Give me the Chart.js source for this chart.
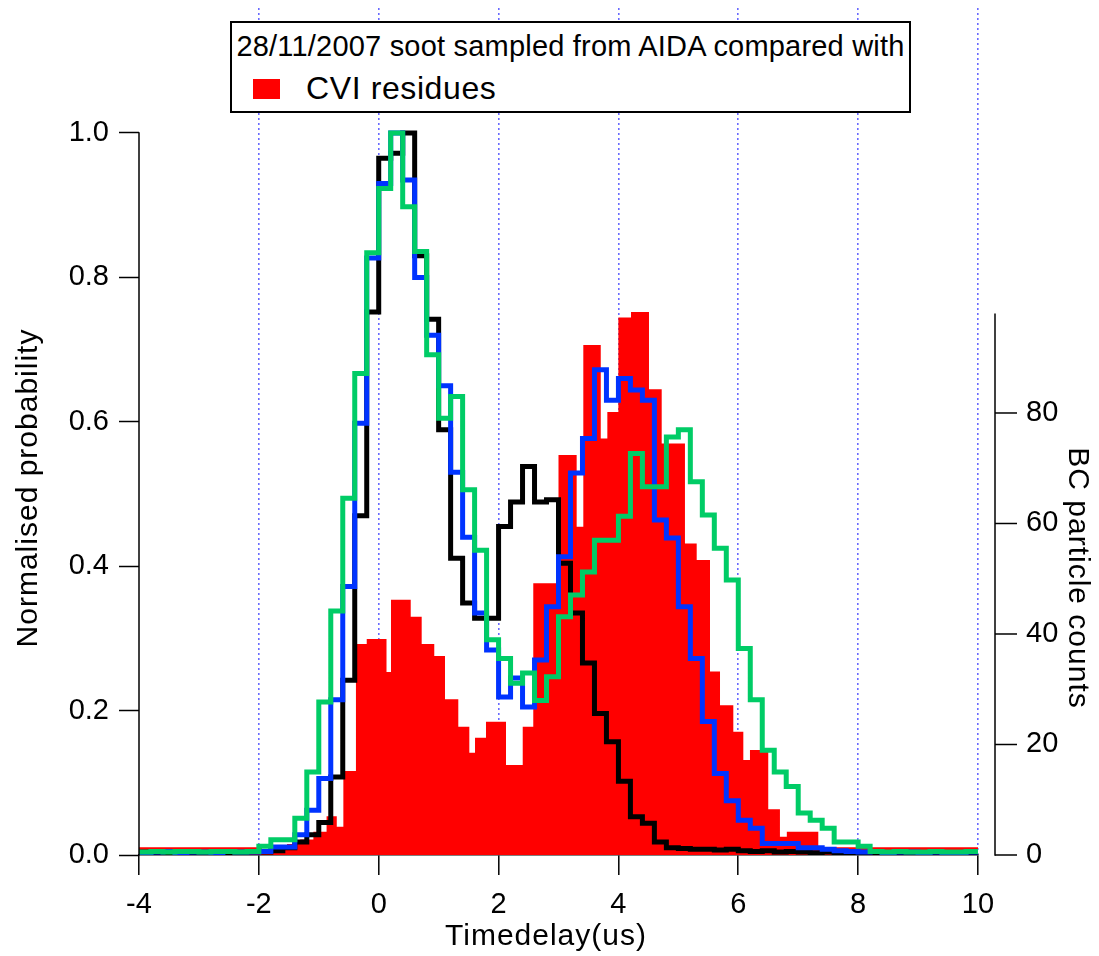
<!DOCTYPE html>
<html>
<head>
<meta charset="utf-8">
<script src="https://cdn.jsdelivr.net/npm/chart.js@4.4.1/dist/chart.umd.min.js"></script>
<style>
html,body{margin:0;padding:0;background:#fff;}
#wrap{position:relative;width:1099px;height:956px;overflow:hidden;}
canvas{display:block;}
#legend{position:absolute;left:230px;top:21px;width:677px;height:88px;border:2px solid #000;background:#fff;
  font-family:"Liberation Sans",Arial,sans-serif;color:#000;}
#legTitle{position:absolute;left:0;right:0;top:7px;text-align:center;font-size:29px;line-height:32px;white-space:nowrap;letter-spacing:0.2px;}
#legSwatch{position:absolute;left:21px;top:56px;width:27px;height:20px;background:#ff0000;}
#legText{position:absolute;left:74px;top:47px;font-size:32px;line-height:36px;white-space:nowrap;letter-spacing:0.6px;}
</style>
</head>
<body>
<div id="wrap">
  <canvas id="c" width="1099" height="956"></canvas>
  <div id="legend"><div id="legTitle"></div><div id="legSwatch"></div><div id="legText"></div></div>
</div>
<script>
// ---------------- data ----------------
const legendTitle = '28/11/2007 soot sampled from AIDA compared with';
const redLabel = 'CVI residues';
const xTitle = 'Timedelay(us)';
const yTitle = 'Normalised probability';
const y2Title = 'BC particle counts';

// step-histogram bins (time delay, us) for the three normalised traces
const binStart = [-4.0,-3.8,-3.6,-3.4,-3.2,-3.0,-2.8,-2.6,-2.4,-2.2,-2.0,-1.8,-1.6,-1.4,-1.2,-1.0,-0.8,-0.6,-0.4,-0.2,
  0.0,0.2,0.4,0.6,0.8,1.0,1.2,1.4,1.6,1.8,2.0,2.2,2.4,2.6,2.8,3.0,3.2,3.4,3.6,3.8,4.0,4.2,4.4,4.6,4.8,5.0,5.2,5.4,5.6,5.8,
  6.0,6.2,6.4,6.6,6.8,7.0,7.2,7.4,7.6,7.8,8.0,8.2,8.4,8.6,8.8,9.0,9.2,9.4,9.6,9.8];
const binEnd = 10.0;

const blackProb = [0.004,0.003,0.002,0.004,0.003,0.002,0.004,0.003,0.003,0.004,
  0.004,0.006,0.010,0.018,0.028,0.045,0.108,0.242,0.470,0.752,
  0.965,0.972,1.000,0.830,0.742,0.589,0.411,0.349,0.328,0.328,
  0.455,0.489,0.538,0.489,0.492,0.404,0.335,0.266,0.196,0.157,
  0.102,0.053,0.044,0.018,0.010,0.009,0.008,0.008,0.007,0.008,
  0.006,0.005,0.006,0.004,0.005,0.004,0.003,0.004,0.003,0.003,
  0.003,0.002,0.003,0.003,0.002,0.003,0.003,0.002,0.003,0.003];

const blueProb = [0.003,0.004,0.005,0.003,0.004,0.004,0.003,0.005,0.004,0.004,
  0.005,0.011,0.011,0.028,0.062,0.106,0.215,0.372,0.598,0.827,
  0.930,1.000,0.935,0.800,0.720,0.650,0.530,0.440,0.335,0.284,
  0.219,0.245,0.205,0.270,0.344,0.413,0.529,0.577,0.672,0.630,
  0.660,0.644,0.630,0.464,0.439,0.344,0.272,0.185,0.113,0.075,
  0.048,0.037,0.016,0.016,0.016,0.010,0.010,0.008,0.006,0.005,
  0.004,0.005,0.003,0.004,0.004,0.003,0.004,0.003,0.003,0.004];

const greenProb = [0.004,0.005,0.004,0.005,0.005,0.004,0.005,0.005,0.004,0.005,
  0.012,0.021,0.021,0.051,0.115,0.212,0.338,0.494,0.667,0.834,
  0.923,1.000,0.898,0.836,0.693,0.605,0.635,0.506,0.422,0.298,
  0.272,0.238,0.252,0.214,0.247,0.330,0.360,0.392,0.436,0.436,
  0.469,0.556,0.510,0.510,0.579,0.589,0.517,0.471,0.425,0.381,
  0.286,0.215,0.145,0.115,0.095,0.058,0.048,0.037,0.018,0.018,
  0.012,0.005,0.004,0.005,0.004,0.004,0.005,0.004,0.004,0.005];

// CVI residue histogram (BC particle counts), bin starts
const redStart = [-4.0,-1.95,-1.75,-1.53,-1.31,-1.09,-0.87,-0.70,-0.59,-0.38,-0.20,0.13,0.205,0.534,0.717,0.927,
  1.106,1.328,1.512,1.607,1.79,2.124,2.403,2.579,3.0,3.303,3.414,3.705,3.815,3.999,4.21,4.51,4.722,5.11,5.306,
  5.528,5.695,5.917,6.084,6.195,6.5,6.695,6.81,7.335];
const redEnd = 10.0;
const redCounts = [1.4,1.0,1.5,2.0,2.8,4.2,7.0,5.1,15.2,38.2,39.1,33.1,46.2,43.1,38.2,36.0,
  28.2,23.2,18.5,21.2,24.1,16.3,23.2,49.2,72.4,59.4,92.3,75.4,80.2,97.3,98.3,84.3,74.5,56.4,53.4,
  33.2,27.1,22.3,17.2,19.0,8.3,3.3,4.2,1.4];

const xTickValues = [-4,-2,0,2,4,6,8,10];
const leftTickValues = [0,0.2,0.4,0.6,0.8,1.0];
const rightTickValues = [0,20,40,60,80];
const leftAxisTop = 1.0;
const rightAxisTop = 98;

// ---------------- helpers ----------------
function steps(starts, end, vals) {
  const pts = starts.map((x, i) => ({x: x, y: vals[i]}));
  pts.push({x: end, y: vals[vals.length - 1]});
  return pts;
}
const FONT = '"Liberation Sans", Arial, sans-serif';

document.getElementById('legTitle').textContent = legendTitle;
document.getElementById('legText').textContent = redLabel;

const igorAxes = {
  id: 'igorAxes',
  beforeDraw(chart) {
    const c = chart.ctx;
    c.save(); c.fillStyle = '#fff'; c.fillRect(0, 0, chart.width, chart.height); c.restore();
  },
  afterDraw(chart) {
    const ctx = chart.ctx, ca = chart.chartArea;
    const y = chart.scales.y, y2 = chart.scales.y2;
    ctx.save();
    ctx.strokeStyle = '#000';
    ctx.lineWidth = 1.5;
    // left axis line (0 .. 1.0)
    ctx.beginPath();
    ctx.moveTo(ca.left, y.getPixelForValue(0) + 0.75);
    ctx.lineTo(ca.left, y.getPixelForValue(leftAxisTop) - 0.75);
    ctx.stroke();
    // right (offset) axis line and its ticks
    const xr = ca.right + 17;
    ctx.beginPath();
    ctx.moveTo(xr, y2.getPixelForValue(0) + 0.75);
    ctx.lineTo(xr, y2.getPixelForValue(rightAxisTop));
    ctx.stroke();
    y2.ticks.forEach(t => {
      const py = y2.getPixelForValue(t.value);
      ctx.beginPath(); ctx.moveTo(xr, py); ctx.lineTo(xr + 22, py); ctx.stroke();
    });
    // axis titles
    ctx.fillStyle = '#000';
    ctx.font = '30px ' + FONT;
    try { ctx.letterSpacing = '1px'; } catch (e) {}
    ctx.textAlign = 'center';
    ctx.textBaseline = 'alphabetic';
    ctx.fillText(xTitle, 546, 945);
    ctx.save();
    ctx.translate(37, 488); ctx.rotate(-Math.PI / 2);
    ctx.fillText(yTitle, 0, 0);
    ctx.restore();
    ctx.save();
    ctx.translate(1069, 578); ctx.rotate(Math.PI / 2);
    ctx.fillText(y2Title, 0, 0);
    ctx.restore();
    ctx.restore();
  }
};

const stepLine = (label, vals, color, order) => ({
  label: label, data: steps(binStart, binEnd, vals), borderColor: color, backgroundColor: color,
  borderWidth: 5, stepped: 'before', pointRadius: 0, fill: false, order: order, yAxisID: 'y',
  borderJoinStyle: 'miter', borderCapStyle: 'butt'
});

new Chart(document.getElementById('c'), {
  type: 'line',
  data: {
    datasets: [
      stepLine('soot (green)', greenProb, '#00cc66', 0),
      stepLine('soot (blue)', blueProb, '#0033ff', 1),
      stepLine('soot (black)', blackProb, '#000000', 2),
      {
        label: redLabel, data: steps(redStart, redEnd, redCounts), borderWidth: 0, borderColor: '#ff0000',
        backgroundColor: '#ff0000', fill: 'origin', stepped: 'before', pointRadius: 0, order: 3, yAxisID: 'y2'
      }
    ]
  },
  options: {
    responsive: false, animation: false, devicePixelRatio: 1,
    layout: {padding: {top: 8, left: 0, right: 0, bottom: 0}},
    plugins: {legend: {display: false}, tooltip: {enabled: false}},
    scales: {
      x: {
        type: 'linear', min: -4, max: 10,
        afterBuildTicks: s => { s.ticks = xTickValues.map(v => ({value: v})); },
        afterFit: s => { s.height = 101; s.paddingLeft = 0; s.paddingRight = 0; },
        grid: {
          drawOnChartArea: true,
          color: c => (c.tick && c.tick.value === -4) ? 'rgba(0,0,0,0)' : '#6a6aff',
          lineWidth: 1.6, drawTicks: true, tickLength: 20, tickColor: '#000', tickWidth: 1.5, tickBorderDash: []
        },
        border: {display: true, color: '#000', width: 1.5, dash: [2, 3]},
        ticks: {color: '#000', font: {family: FONT, size: 29}, padding: 13, maxRotation: 0, autoSkip: false,
          callback: v => String(v)}
      },
      y: {
        type: 'linear', position: 'left', min: 0, max: 1.1731,
        afterBuildTicks: s => { s.ticks = leftTickValues.map(v => ({value: v})); },
        afterFit: s => { s.width = 139; s.paddingTop = 0; s.paddingBottom = 0; },
        grid: {drawOnChartArea: false, drawTicks: true, tickLength: 20, color: '#000', tickColor: '#000', tickWidth: 1.5},
        border: {display: false},
        ticks: {color: '#000', font: {family: FONT, size: 29}, padding: 10, autoSkip: false,
          callback: v => Number(v).toFixed(1)}
      },
      y2: {
        type: 'linear', position: 'right', min: 0, max: 153.3,
        afterBuildTicks: s => { s.ticks = rightTickValues.map(v => ({value: v})); },
        afterFit: s => { s.width = 121; s.paddingTop = 0; s.paddingBottom = 0; },
        grid: {display: false, drawOnChartArea: false, drawTicks: false},
        border: {display: false},
        ticks: {color: '#000', font: {family: FONT, size: 29}, padding: 48, autoSkip: false,
          callback: v => String(v)}
      }
    }
  },
  plugins: [igorAxes]
});
</script>
</body>
</html>
